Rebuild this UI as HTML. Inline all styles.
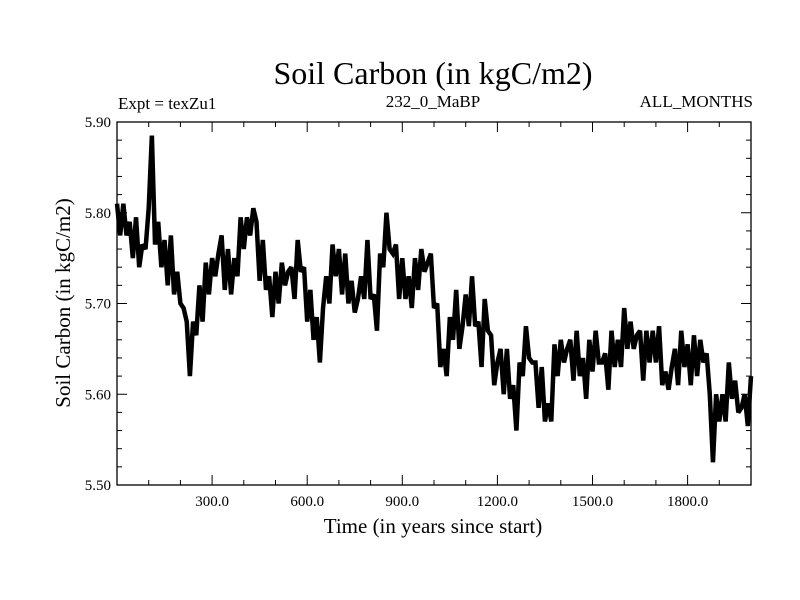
<!DOCTYPE html>
<html><head><meta charset="utf-8"><style>
body{margin:0;background:#fff;}
svg{display:block;font-family:"Liberation Serif",serif;}
</style></head><body>
<svg id="chart" width="800" height="600">
<text x="433" y="84" font-size="32" text-anchor="middle">Soil Carbon (in kgC/m2)</text>
<text x="118" y="109" font-size="17">Expt = texZu1</text>
<text x="433" y="107" font-size="17" text-anchor="middle">232_0_MaBP</text>
<text x="753" y="107" font-size="17" text-anchor="end">ALL_MONTHS</text>
<text x="433" y="533" font-size="21" text-anchor="middle">Time (in years since start)</text>
<text transform="translate(70,303) rotate(-90)" font-size="21" text-anchor="middle">Soil Carbon (in kgC/m2)</text>
<g id="axes"></g>
<path id="series" fill="none" stroke="#000" stroke-width="4.5" stroke-linejoin="miter" stroke-miterlimit="2.5"></path>
<rect x="117" y="122" width="634" height="363" fill="none" stroke="#000" stroke-width="1.3"></rect>
</svg>
<script>
const yearStep = 10;
const values = [5.81,5.775,5.81,5.775,5.79,5.75,5.795,5.74,5.765,5.76,5.805,5.885,5.765,5.79,5.74,5.77,5.72,5.775,5.71,5.735,
5.70,5.695,5.68,5.62,5.68,5.665,5.72,5.68,5.745,5.71,5.75,5.73,5.755,5.775,5.715,5.76,5.71,5.75,5.73,5.795,
5.76,5.795,5.775,5.805,5.79,5.725,5.77,5.715,5.73,5.685,5.735,5.70,5.745,5.72,5.735,5.74,5.705,5.77,5.735,5.74,
5.68,5.715,5.66,5.685,5.635,5.695,5.73,5.70,5.765,5.73,5.76,5.71,5.755,5.70,5.725,5.69,5.705,5.73,5.705,5.77,
5.705,5.71,5.67,5.755,5.74,5.80,5.76,5.755,5.765,5.705,5.75,5.705,5.73,5.695,5.75,5.715,5.76,5.735,5.745,5.755,
5.695,5.70,5.63,5.65,5.62,5.685,5.66,5.715,5.65,5.675,5.71,5.675,5.73,5.675,5.68,5.63,5.705,5.67,5.665,5.61,
5.635,5.65,5.60,5.65,5.595,5.61,5.56,5.635,5.62,5.675,5.64,5.635,5.635,5.585,5.63,5.57,5.59,5.57,5.655,5.62,
5.66,5.635,5.65,5.66,5.615,5.67,5.62,5.64,5.595,5.66,5.625,5.67,5.635,5.635,5.645,5.605,5.67,5.63,5.66,5.63,
5.695,5.65,5.68,5.65,5.665,5.67,5.615,5.67,5.635,5.67,5.635,5.675,5.61,5.625,5.605,5.63,5.65,5.61,5.67,5.63,
5.655,5.61,5.665,5.62,5.66,5.635,5.645,5.60,5.525,5.60,5.57,5.60,5.57,5.635,5.595,5.615,5.58,5.585,5.60,5.565,5.62];
const xTickLabels = ["300.0","600.0","900.0","1200.0","1500.0","1800.0"];
const yTickLabels = ["5.50","5.60","5.70","5.80","5.90"];

const X0=117,X1=751,Y0=122,Y1=485,XMIN=0,XMAX=2000,YMIN=5.5,YMAX=5.9;
function sx(v){return X0+(v-XMIN)/(XMAX-XMIN)*(X1-X0);}
function sy(v){return Y1-(v-YMIN)/(YMAX-YMIN)*(Y1-Y0);}

let d="";
values.forEach((v,i)=>{d+=(i?"L":"M")+sx(i*yearStep).toFixed(2)+" "+sy(v).toFixed(2);});
document.getElementById('series').setAttribute('d',d);

const NS="http://www.w3.org/2000/svg";
const axes=document.getElementById('axes');
function line(x1,y1,x2,y2,name){
  const l=document.createElementNS(NS,'line');
  l.setAttribute('x1',x1);l.setAttribute('y1',y1);l.setAttribute('x2',x2);l.setAttribute('y2',y2);
  l.setAttribute('stroke','#000');l.setAttribute('stroke-width','1');
  
  
  axes.appendChild(l);
}
for(let t=100;t<XMAX;t+=100){
  const x=sx(t), len=(t%300===0)?10:5;
  line(x,Y1,x,Y1-len,'x-tick');
  line(x,Y0,x,Y0+len,'x-tick-top');
}
for(let k=1;k<20;k++){
  const v=YMIN+k*0.02, y=sy(v), len=(k%5===0)?10:5;
  line(X0,y,X0+len,y,'y-tick');
  line(X1,y,X1-len,y,'y-tick-right');
}
xTickLabels.forEach(s=>{
  const t=document.createElementNS(NS,'text');
  t.setAttribute('x',sx(parseFloat(s)));t.setAttribute('y',Y1+21);
  t.setAttribute('font-size','15');t.setAttribute('text-anchor','middle');
  t.textContent=s;
  
  
  axes.appendChild(t);
});
yTickLabels.forEach(s=>{
  const t=document.createElementNS(NS,'text');
  t.setAttribute('x',X0-6);t.setAttribute('y',sy(parseFloat(s))+5);
  t.setAttribute('font-size','15');t.setAttribute('text-anchor','end');
  t.textContent=s;
  
  
  axes.appendChild(t);
});
</script>
</body></html>
